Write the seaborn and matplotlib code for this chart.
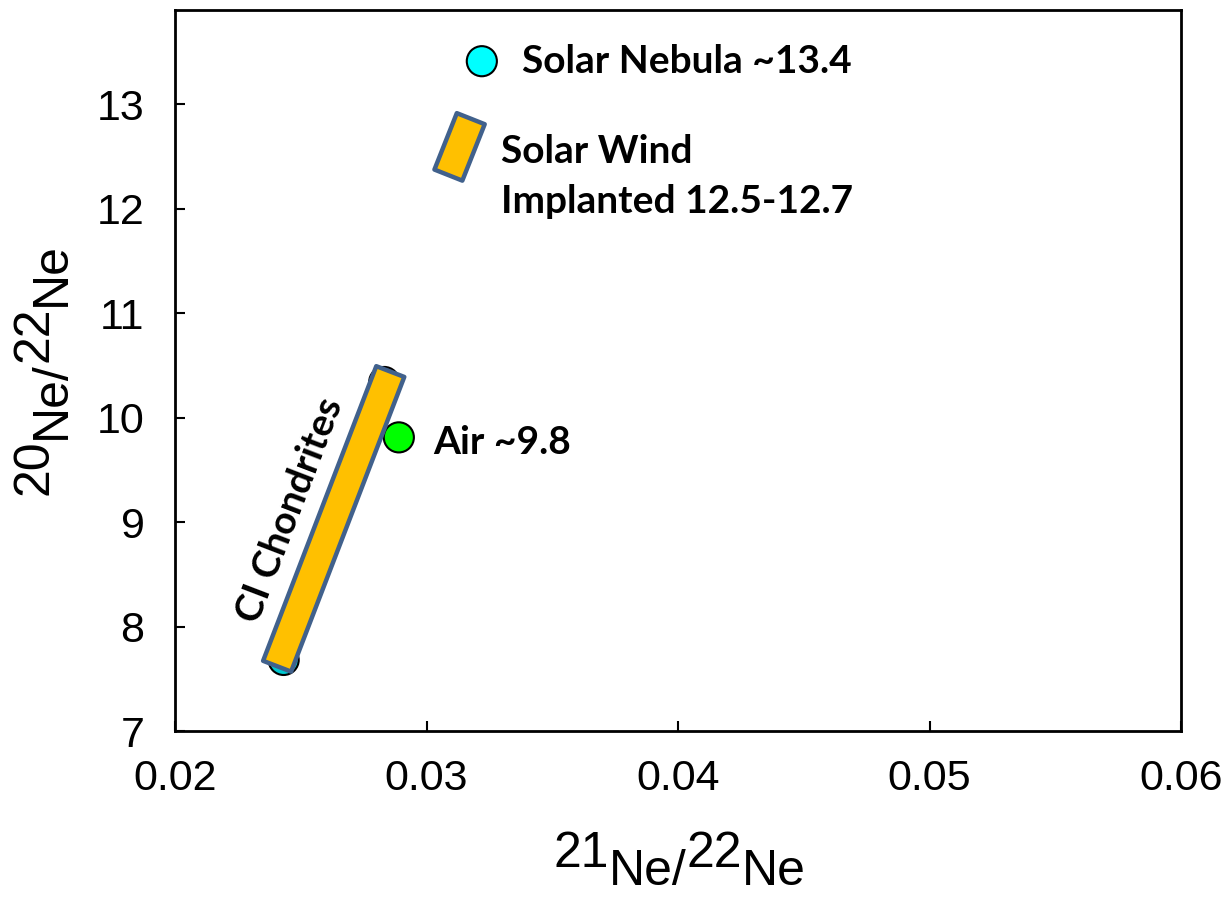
import numpy as np
import matplotlib
matplotlib.use("Agg")
import matplotlib.pyplot as plt
import seaborn as sns
import pandas as pd
from matplotlib.patches import Polygon
from matplotlib.transforms import IdentityTransform

# ---- data ----
point_names = ["Solar Nebula", "Air", "CI low", "CI high"]
point_x = [0.0322, 0.0289, 0.02432, 0.02832]
point_y = [13.41, 9.81, 7.68, 10.34]
point_colors = ["#00FFFF", "#00FF00", "#00C8D0", "#1F3864"]

ci_x = [0.02406, 0.02856]
ci_y = [7.62, 10.44]
sw_x = [0.03087, 0.03176]
sw_y = [12.32, 12.86]

x_ticks = [0.02, 0.03, 0.04, 0.05, 0.06]
y_ticks = [7, 8, 9, 10, 11, 12, 13]

sns.set_style("ticks")
plt.rcParams["font.family"] = ["Liberation Sans", "DejaVu Sans"]

fig = plt.figure(figsize=(12.3, 8.97), dpi=100)
ax = fig.add_axes([175 / 1230, 1 - 731 / 897, (1181 - 175) / 1230, (731 - 10) / 897])
ax.set_xlim(0.02, 0.06)
ax.set_ylim(7, 13.9)

df = pd.DataFrame({"x": point_x, "y": point_y, "name": point_names})
sns.scatterplot(data=df, x="x", y="y", hue="name", palette=dict(zip(point_names, point_colors)),
                s=470, edgecolor="black", linewidth=1.5, legend=False, ax=ax, zorder=2)

def band(xs, ys, width_px, face, edge):
    p0 = ax.transData.transform((xs[0], ys[0]))
    p1 = ax.transData.transform((xs[1], ys[1]))
    d = p1 - p0
    n = np.array([-d[1], d[0]]) / np.hypot(*d) * width_px / 2
    corners = np.array([p0 + n, p1 + n, p1 - n, p0 - n])
    poly = Polygon(corners, closed=True, facecolor=face, edgecolor=edge, linewidth=3.2,
                   joinstyle="round", transform=IdentityTransform(), zorder=3)
    ax.add_patch(poly)

band(ci_x, ci_y, 30, "#FFC000", "#41618C")
band(sw_x, sw_y, 30, "#FFC000", "#41618C")

lab_font = dict(family=["Lato", "DejaVu Sans"], fontweight="bold", fontsize=28, color="black")
ax.annotate("Solar Nebula ~13.4", xy=(point_x[0], point_y[0]), xytext=(40, 0),
            textcoords="offset pixels", ha="left", va="center", **lab_font)
ax.annotate("Air ~9.8", xy=(point_x[1], point_y[1]), xytext=(34, -5),
            textcoords="offset pixels", ha="left", va="center", **lab_font)
ax.text(0.03297, 12.55, "Solar Wind", ha="left", va="center", **lab_font)
ax.text(0.03297, 12.07, "Implanted 12.5-12.7", ha="left", va="center", **lab_font)
ax.text(0.02458, 9.115, "CI Chondrites", rotation=69, rotation_mode="anchor",
        ha="center", va="center", **lab_font)

ax.set_xticks(x_ticks)
ax.set_xticklabels([f"{v:.2f}" for v in x_ticks])
ax.set_yticks(y_ticks)
ax.set_yticklabels([str(v) for v in y_ticks])
ax.tick_params(direction="in", length=7, width=1.5, labelsize=31, color="black",
               labelcolor="black")
ax.tick_params(axis="x", pad=20)
ax.tick_params(axis="y", pad=22)
for s in ax.spines.values():
    s.set_visible(True)
    s.set_linewidth(2)
    s.set_color("black")
ax.set_xlabel("")
ax.set_ylabel("")

# axis labels with raised mass numbers
af = dict(fontsize=36, family=["Liberation Sans", "DejaVu Sans"], color="black")
t = fig.text(553 / 1230, 1 - 831 / 897, "21", ha="left", va="top", **af)
prev = t
for txt, dy in [("Ne/", -18), ("22", 18), ("Ne", -18)]:
    prev = ax.annotate(txt, xy=(1, 1), xycoords=prev, xytext=(0, dy), textcoords="offset pixels",
                       ha="left", va="top", annotation_clip=False, **af)

t = fig.text(11 / 1230, 1 - 495 / 897, "20", ha="left", va="bottom", rotation=90, **af)
prev = t
for txt, dx in [("Ne/", 18), ("22", -18), ("Ne", 18)]:
    prev = ax.annotate(txt, xy=(0, 1), xycoords=prev, xytext=(dx, 0), textcoords="offset pixels",
                       ha="left", va="bottom", rotation=90, annotation_clip=False, **af)

fig.savefig("out.png", dpi=100)
